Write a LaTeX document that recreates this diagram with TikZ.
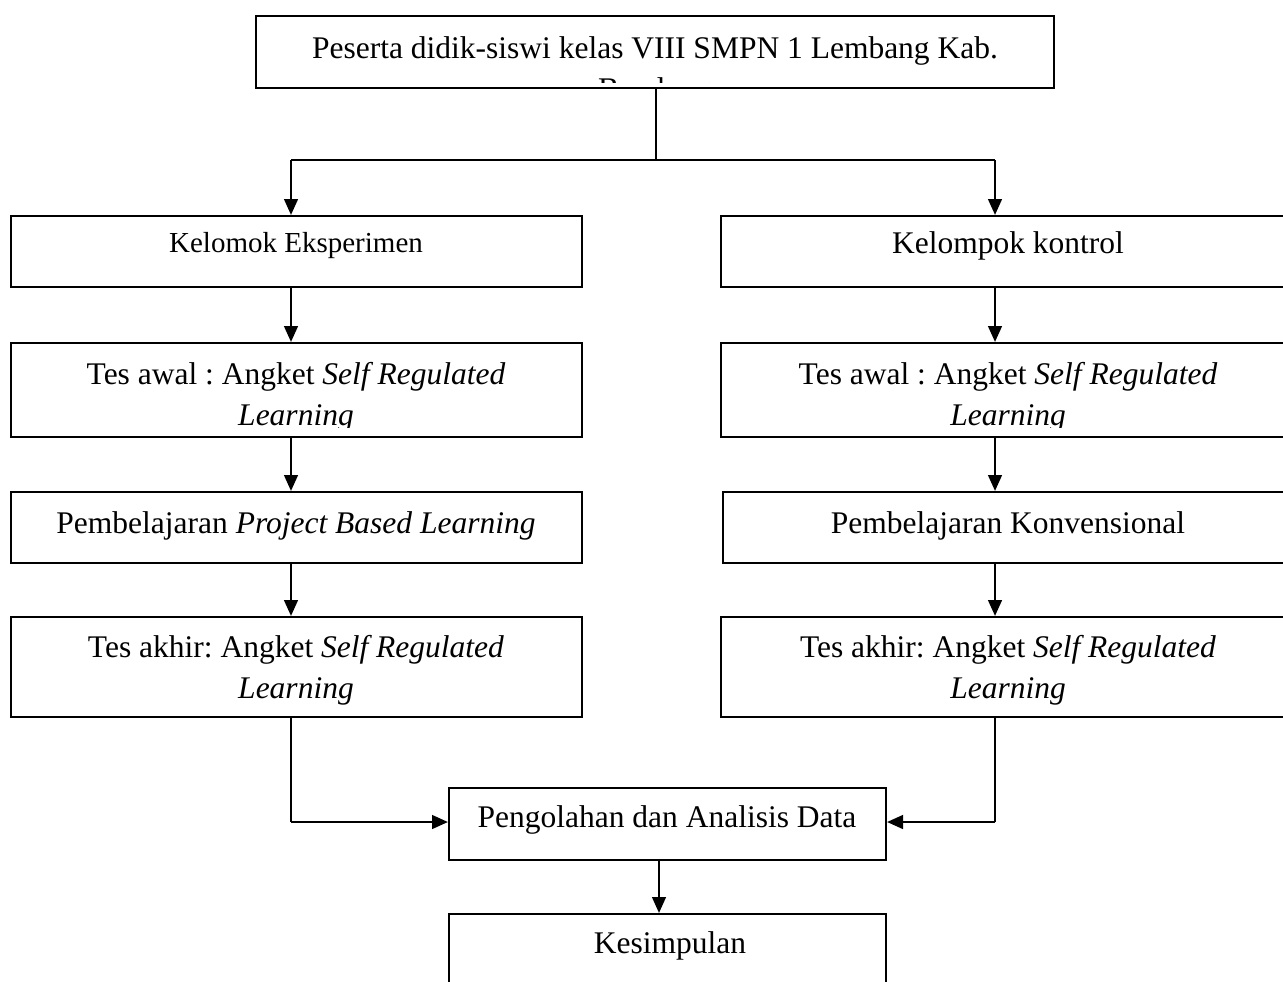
\documentclass[tikz,border=0pt]{standalone}
\usepackage{fontspec}
\setmainfont{Liberation Serif}
\frenchspacing
\usetikzlibrary{fit,arrows.meta}
\tikzset{
  box/.style={draw=black, line width=1pt, inner sep=0pt, fill=none},
  txt/.style={inner sep=0pt, anchor=base, font=\fontsize{15.75pt}{20.5pt}\selectfont},
  txtsmall/.style={inner sep=0pt, anchor=base, font=\fontsize{14.5pt}{18pt}\selectfont},
  arr/.style={line width=1.3pt, -{Triangle[length=8pt,width=6.8pt]}},
  thickline/.style={line width=1.3pt},
  thinline/.style={line width=0.65pt}
}
\begin{document}
\begin{tikzpicture}[x=0.5pt,y=-0.5pt]
\useasboundingbox (0,0) rectangle (1283,981);
\clip (0,0) rectangle (1283,981);
\fill[white] (0,0) rectangle (1283,981);

% column coordinates
\coordinate (lc) at (291,0);
\coordinate (rc) at (995,0);
\coordinate (mc) at (659,0);

% boxes
\node[box, fit={(256,16) (1054,88)}] (top) {};
\node[box, fit={(11,216) (582,287)}] (kelA) {};
\node[box, fit={(721,216) (1295,287)}] (kelB) {};
\node[box, fit={(11,343) (582,437)}] (awalA) {};
\node[box, fit={(721,343) (1295,437)}] (awalB) {};
\node[box, fit={(11,492) (582,563)}] (pembA) {};
\node[box, fit={(723,492) (1295,563)}] (pembB) {};
\node[box, fit={(11,617) (582,717)}] (akhirA) {};
\node[box, fit={(721,617) (1295,717)}] (akhirB) {};
\node[box, fit={(449,788) (886,860)}] (peng) {};
\node[box, fit={(449,914) (886,1000)}] (kes) {};

% texts
\begin{scope}
\clip (256,16) rectangle (1054,82);
\node[txt] (topt1) at (655,58) {Peserta didik-siswi kelas VIII SMPN 1 Lembang Kab.};
\node[txt] (topt2) at (655,99) {Bandung};
\end{scope}

\node[txtsmall] (kelAt) at (296,252) {Kelomok Eksperimen};
\node[txt] (kelBt) at (1008,253) {Kelompok kontrol};

\begin{scope}
\clip (11,343) rectangle (582,427);
\node[txt] (awalAt1) at (296,384) {Tes awal : Angket \textit{Self Regulated}};
\node[txt] (awalAt2) at (296,425) {\textit{Learning}};
\end{scope}
\begin{scope}
\clip (721,343) rectangle (1295,427);
\node[txt] (awalBt1) at (1008,384) {Tes awal : Angket \textit{Self Regulated}};
\node[txt] (awalBt2) at (1008,425) {\textit{Learning}};
\end{scope}

\node[txt] (pembAt) at (296,533) {Pembelajaran \textit{Project Based Learning}};
\node[txt] (pembBt) at (1008,533) {Pembelajaran Konvensional};

\node[txt] (akhirAt1) at (296,657) {Tes akhir: Angket \textit{Self Regulated}};
\node[txt] (akhirAt2) at (296,698) {\textit{Learning}};
\node[txt] (akhirBt1) at (1008,657) {Tes akhir: Angket \textit{Self Regulated}};
\node[txt] (akhirBt2) at (1008,698) {\textit{Learning}};

\node[txt] (pengt) at (667,827) {Pengolahan dan Analisis Data};
\node[txt] (kest) at (670,953) {Kesimpulan};

% connectors
\coordinate (split) at (656,160);
\draw[thinline] (top.south -| split) -- (split);
\draw[thickline] (split -| lc) -- (split -| rc);
\draw[arr] (split -| lc) -- (kelA.north -| lc);
\draw[arr] (split -| rc) -- (kelB.north -| rc);

\draw[arr] (kelA.south -| lc) -- (awalA.north -| lc);
\draw[arr] (awalA.south -| lc) -- (pembA.north -| lc);
\draw[arr] (pembA.south -| lc) -- (akhirA.north -| lc);

\draw[arr] (kelB.south -| rc) -- (awalB.north -| rc);
\draw[arr] (awalB.south -| rc) -- (pembB.north -| rc);
\draw[arr] (pembB.south -| rc) -- (akhirB.north -| rc);

\coordinate (jy) at (0,822);
\draw[thinline] (akhirA.south -| lc) -- (lc |- jy);
\draw[arr] (lc |- jy) -- (peng.west |- jy);
\draw[thinline] (akhirB.south -| rc) -- (rc |- jy);
\draw[arr] (rc |- jy) -- (peng.east |- jy);

\draw[arr] (peng.south -| mc) -- (kes.north -| mc);
\end{tikzpicture}
\end{document}
